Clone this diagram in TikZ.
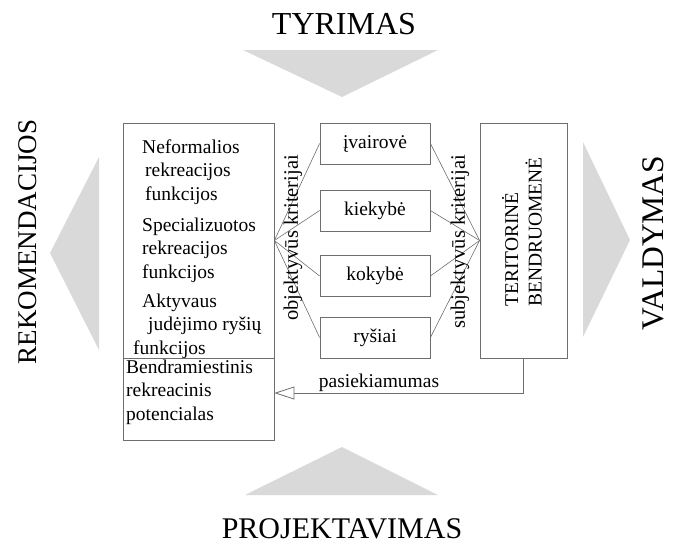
\documentclass[tikz,border=0pt]{standalone}
\usepackage{fontspec}
\setmainfont{Liberation Serif}
\usetikzlibrary{arrows.meta}
\definecolor{Cf}{RGB}{217,217,217}
\definecolor{Cl}{RGB}{110,110,110}

\begin{document}
\begin{tikzpicture}[x=1pt,y=-1pt,
    box/.style={draw=Cl,line width=0.8pt,inner sep=0pt},
    txt/.style={font=\fontsize{19.5}{23.5}\selectfont,inner sep=0pt},
    big/.style={font=\fontsize{#1}{32}\selectfont,inner sep=0pt,text depth=0pt},
    fan/.style={draw=Cl,line width=0.6pt}]
  \useasboundingbox (0,0) rectangle (676,546);
  \fill[Cf] (243,50) -- (438,50) -- (342,97) -- cycle;
  \fill[Cf] (245,495) -- (438,495) -- (342,447) -- cycle;
  \fill[Cf] (99,157) -- (99,350) -- (50,253) -- cycle;
  \fill[Cf] (583,142) -- (583,337) -- (630,240) -- cycle;
  \node[big=32] (tyr) at (344,24) {TYRIMAS};
  \node[big=30] (proj) at (342,529) {PROJEKTAVIMAS};
  \node[big=27,rotate=90] (rek) at (28,242) {REKOMENDACIJOS};
  \node[big=31.5,rotate=90] (vald) at (653,243) {VALDYMAS};
  \node[box,minimum width=151pt,minimum height=235pt] (funk) at (198.5,240.5) {};
  \node[box,minimum width=151pt,minimum height=82pt] (potenc) at (198.5,399) {};
  \node[txt,align=left,anchor=base west] (neform) at (142,200)
    {Neformalios\\\hspace*{3pt}rekreacijos\\\hspace*{3pt}funkcijos};
  \node[txt,align=left,anchor=base west] (spec) at (142,278)
    {Specializuotos\\rekreacijos\\funkcijos};
  \node[txt,align=left,anchor=base west] (aktyv) at (133,354)
    {\hspace*{9pt}Aktyvaus\\\hspace*{15pt}judėjimo ryšių\\funkcijos};
  \node[txt,align=left,anchor=base west] (bendr) at (126,420)
    {Bendramiestinis\\rekreacinis\\potencialas};
  \node[box,txt,minimum width=110pt,minimum height=41pt] (ivair) at (375,143.5) {įvairovė};
  \node[box,txt,minimum width=110pt,minimum height=41pt] (kiek) at (375,210.5) {kiekybė};
  \node[box,txt,minimum width=110pt,minimum height=41pt] (kok) at (375,276) {kokybė};
  \node[box,txt,minimum width=110pt,minimum height=41pt] (rys) at (375,337.5) {ryšiai};
  \node[box,minimum width=87pt,minimum height=235pt] (terit) at (523.5,240.5) {};
  \node[txt,rotate=90,align=left,anchor=south west] (terittxt) at (542,307)
    {TERITORINĖ\\BENDRUOMENĖ};
  \foreach \n in {ivair,kiek,kok,rys}{
    \draw[fan] (funk.east) -- (\n.west);
    \draw[fan] (\n.east) -- (terit.west);
  }
  \node[txt,font=\fontsize{20.5}{24}\selectfont,rotate=90] (obj) at (293,238) {objektyvūs kriterijai};
  \node[txt,font=\fontsize{20.5}{24}\selectfont,rotate=90] (subj) at (460,242) {subjektyvūs kriterijai};
  \draw[Cl,line width=0.8pt,-{Triangle[open,length=20pt,width=13pt]}]
    (terit.south) |- ([yshift=6pt]potenc.east)
    node[txt,pos=0.79,above=1pt,text=black] (pasiek) {pasiekiamumas};
\end{tikzpicture}
\end{document}
